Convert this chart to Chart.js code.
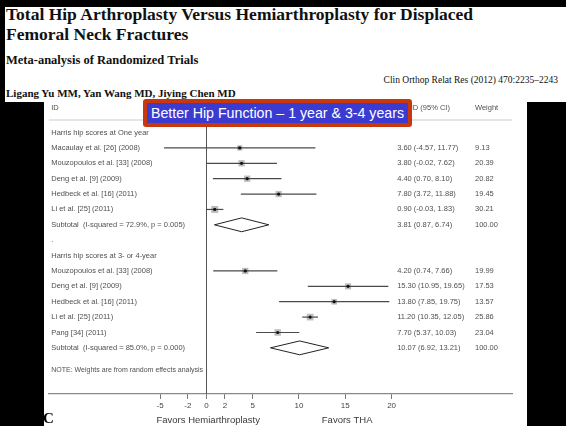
<!DOCTYPE html>
<html lang="en">
<head>
<meta charset="UTF-8">
<title>THA vs Hemiarthroplasty - Harris hip scores</title>
<style>
    body { margin: 0; width: 566px; height: 426px; background: #000; position: relative; overflow: hidden; }
    .paper { position: absolute; left: 5px; top: 7px; width: 561px; height: 95px; background: #fff; }
    .serif { position: absolute; font-family: "Liberation Serif", "DejaVu Serif", serif; color: #111; white-space: nowrap; }
    .title { left: 6px; font-size: 17.5px; line-height: 17.5px; font-weight: bold; }
    .sub { left: 6px; top: 53.5px; font-size: 12.5px; line-height: 12.5px; font-weight: bold; }
    .authors { left: 6px; top: 87.5px; font-size: 11px; line-height: 11px; font-weight: bold; }
    .journal { right: 8px; top: 76px; font-size: 9.5px; line-height: 9.5px; }
    #plot { position: absolute; left: 44px; top: 101px; background: #fff; }
    .callout { position: absolute; left: 143px; top: 99px; width: 269px; height: 28px; box-sizing: border-box;
               border: 4px solid #c8380c; border-radius: 3px; background: #3b3bd1; color: #fff;
               font-family: "Liberation Sans", Arial, sans-serif; font-size: 14.2px; line-height: 20px; text-align: center; white-space: nowrap; }
    .panel { position: absolute; left: 43px; top: 411px; font-family: "Liberation Serif", serif; font-weight: bold; font-size: 15px; line-height: 15px; color: #000; }
</style>
</head>
<body>
    <div class="paper"></div>
    <div class="serif title" style="top:6.3px">Total Hip Arthroplasty Versus Hemiarthroplasty for Displaced</div>
    <div class="serif title" style="top:26px">Femoral Neck Fractures</div>
    <div class="serif sub">Meta-analysis of Randomized Trials</div>
    <div class="serif journal">Clin Orthop Relat Res (2012) 470:2235–2243</div>
    <div class="serif authors">Ligang Yu MM, Yan Wang MD, Jiying Chen MD</div>

    <canvas id="plot" width="483" height="325"></canvas>

    <div class="callout">Better Hip Function – 1 year &amp; 3-4 years</div>
    <div class="panel">C</div>

    <script src="https://cdn.jsdelivr.net/npm/chart.js"></script>
    <script>
        // Study level data (WMD in Harris hip score, THA minus hemiarthroplasty)
        const STUDY_LABELS = [
            'Macaulay et al. [26] (2008)', 'Mouzopoulos et al. [33] (2008)', 'Deng et al. [9] (2009)',
            'Hedbeck et al. [16] (2011)', 'Li et al. [25] (2011)',
            'Mouzopoulos et al. [33] (2008)', 'Deng et al. [9] (2009)', 'Hedbeck et al. [16] (2011)',
            'Li et al. [25] (2011)', 'Pang [34] (2011)'
        ];
        const STUDY_ROWS = [1, 2, 3, 4, 5, 9, 10, 11, 12, 13];
        const WMD = [3.60, 3.80, 4.40, 7.80, 0.90, 4.20, 15.30, 13.80, 11.20, 7.70];
        const CI_LOW = [-4.57, -0.02, 0.70, 3.72, -0.03, 0.74, 10.95, 7.85, 10.35, 5.37];
        const CI_HIGH = [11.77, 7.62, 8.10, 11.88, 1.83, 7.66, 19.65, 19.75, 12.05, 10.03];
        const WEIGHTS = [9.13, 20.39, 20.82, 19.45, 30.21, 19.99, 17.53, 13.57, 25.86, 23.04];

        // Pooled subtotals
        const SUB_LABELS = ['Subtotal  (I-squared = 72.9%, p = 0.005)', 'Subtotal  (I-squared = 85.0%, p = 0.000)'];
        const SUB_ROWS = [6, 14];
        const SUB_WMD = [3.81, 10.07];
        const SUB_LOW = [0.87, 6.92];
        const SUB_HIGH = [6.74, 13.21];
        const SUB_WEIGHTS = [100.00, 100.00];

        const GROUP_LABELS = ['Harris hip scores at One year', '.', 'Harris hip scores at 3- or 4-year'];
        const GROUP_ROWS = [0, 7, 8];
        const NOTE = 'NOTE: Weights are from random effects analysis';
        const NOTE_ROW = 15.45;

        const TICK_VALUES = [-5, -2, 0, 2, 5, 10, 15, 20];
        const FAVORS = ['Favors Hemiarthroplasty', 'Favors THA'];
        const FAVORS_AT = [0.2, 15.2];

        // text columns, in x-scale units
        const COL_LABEL = -16.75, COL_EST = 20.6, COL_EST_HEAD = 26.3, COL_WEIGHT = 29.0;
        const SANS = '"Liberation Sans", Arial, sans-serif';

        const fmt = v => v.toFixed(2);

        const ciLines = STUDY_ROWS.map((row, i) => ({
            type: 'line',
            data: [{ x: CI_LOW[i], y: row }, { x: CI_HIGH[i], y: row }],
            borderColor: '#4a4a4a', borderWidth: 1.2, pointRadius: 0, order: 2
        }));

        const diamonds = SUB_ROWS.map((row, i) => ({
            type: 'line',
            data: [
                { x: SUB_LOW[i], y: row }, { x: SUB_WMD[i], y: row - 0.45 },
                { x: SUB_HIGH[i], y: row }, { x: SUB_WMD[i], y: row + 0.45 },
                { x: SUB_LOW[i], y: row }
            ],
            borderColor: '#222', borderWidth: 1, pointRadius: 0, fill: false, tension: 0, order: 2
        }));

        const squares = {
            type: 'scatter',
            data: STUDY_ROWS.map((row, i) => ({ x: WMD[i], y: row })),
            pointStyle: 'rect',
            pointRadius: WEIGHTS.map(w => 2.2 + Math.sqrt(w) * 0.5),
            backgroundColor: '#bdbdbd', borderWidth: 0, order: 3
        };

        const dots = {
            type: 'scatter',
            data: STUDY_ROWS.map((row, i) => ({ x: WMD[i], y: row })),
            pointRadius: 1.6, backgroundColor: '#111', borderWidth: 0, order: 1
        };

        // header rule, zero line and all the text columns
        const forestText = {
            id: 'forestText',
            beforeDatasetsDraw(chart) {
                const { ctx, chartArea: a, scales: { x, y } } = chart;
                ctx.save();
                ctx.strokeStyle = '#dcdcdc';
                ctx.lineWidth = 1.5;
                ctx.beginPath();
                ctx.moveTo(a.left, a.top - 1);
                ctx.lineTo(a.right, a.top - 1);
                ctx.stroke();

                const x0 = Math.round(x.getPixelForValue(0)) + 0.5;
                ctx.strokeStyle = '#555';
                ctx.lineWidth = 1;
                ctx.beginPath();
                ctx.moveTo(x0, a.top);
                ctx.lineTo(x0, a.bottom);
                ctx.stroke();
                ctx.restore();
            },
            afterDraw(chart) {
                const { ctx, chartArea: a, scales: { x, y } } = chart;
                ctx.save();
                ctx.font = '7.5px ' + SANS;
                ctx.fillStyle = '#505050';
                ctx.textBaseline = 'middle';

                const headY = a.top - 13;
                ctx.textAlign = 'left';
                ctx.fillText('ID', x.getPixelForValue(COL_LABEL), headY);
                ctx.fillText('Weight', x.getPixelForValue(COL_WEIGHT), headY);
                ctx.textAlign = 'right';
                ctx.fillText('WMD (95% CI)', x.getPixelForValue(COL_EST_HEAD), headY);
                ctx.textAlign = 'left';

                const lx = x.getPixelForValue(COL_LABEL);
                const ex = x.getPixelForValue(COL_EST);
                const wx = x.getPixelForValue(COL_WEIGHT);
                GROUP_LABELS.forEach((t, i) => ctx.fillText(t, lx, y.getPixelForValue(GROUP_ROWS[i])));
                STUDY_LABELS.forEach((t, i) => {
                    const py = y.getPixelForValue(STUDY_ROWS[i]);
                    ctx.fillText(t, lx, py);
                    ctx.fillText(`${fmt(WMD[i])} (${fmt(CI_LOW[i])}, ${fmt(CI_HIGH[i])})`, ex, py);
                    ctx.fillText(fmt(WEIGHTS[i]), wx, py);
                });
                SUB_LABELS.forEach((t, i) => {
                    const py = y.getPixelForValue(SUB_ROWS[i]);
                    ctx.fillText(t, lx, py);
                    ctx.fillText(`${fmt(SUB_WMD[i])} (${fmt(SUB_LOW[i])}, ${fmt(SUB_HIGH[i])})`, ex, py);
                    ctx.fillText(fmt(SUB_WEIGHTS[i]), wx, py);
                });
                ctx.font = '7px ' + SANS;
                ctx.fillText(NOTE, lx, y.getPixelForValue(NOTE_ROW));

                ctx.font = '9.5px ' + SANS;
                ctx.fillStyle = '#3a3a3a';
                ctx.textAlign = 'center';
                FAVORS.forEach((t, i) => ctx.fillText(t, x.getPixelForValue(FAVORS_AT[i]), a.bottom + 26));
                ctx.restore();
            }
        };

        new Chart(document.getElementById('plot'), {
            type: 'scatter',
            data: { datasets: [dots, ...ciLines, ...diamonds, squares] },
            options: {
                responsive: false,
                animation: false,
                layout: { padding: { left: 1, right: 15, top: 20, bottom: 0 } },
                plugins: { legend: { display: false }, tooltip: { enabled: false } },
                scales: {
                    x: {
                        type: 'linear', min: -17, max: 33,
                        afterBuildTicks: s => { s.ticks = TICK_VALUES.map(v => ({ value: v })); },
                        afterFit: s => { s.height = 32; },
                        grid: { drawOnChartArea: false, drawTicks: true, tickLength: 5, color: '#777' },
                        border: { display: true, color: '#8a8a8a', width: 1.2 },
                        ticks: { autoSkip: false, maxRotation: 0, padding: 2, color: '#444',
                                 font: { family: SANS, size: 8 }, callback: v => String(v) }
                    },
                    y: { type: 'linear', reverse: true, min: -0.75, max: 17, display: false }
                }
            },
            plugins: [forestText]
        });
    </script>
</body>
</html>
